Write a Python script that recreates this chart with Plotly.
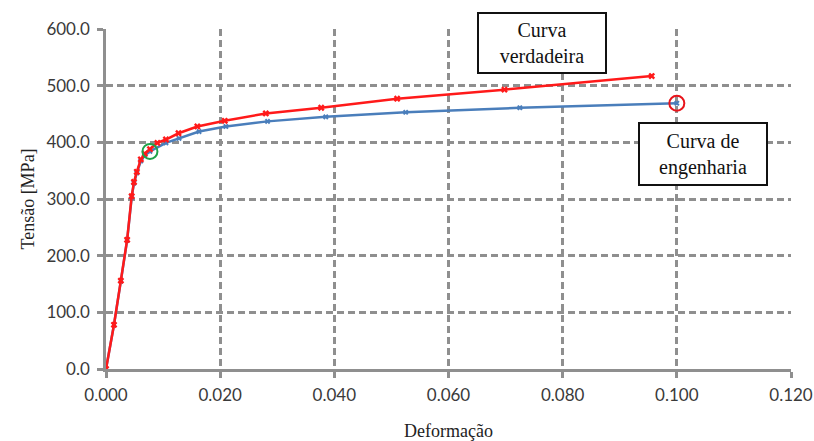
import plotly.graph_objects as go

# True stress-strain curve (red)
true_strain = [0, 0.0014, 0.0026, 0.0037, 0.0045, 0.0049, 0.0054, 0.0061, 0.0068, 0.0077,
               0.009, 0.0105, 0.0127, 0.016, 0.0208, 0.028, 0.0377, 0.051, 0.0698, 0.0956]
true_stress = [0, 78, 156, 228, 305, 330, 348, 370, 380, 388,
               399, 405, 416, 428, 438, 451, 461, 477, 493, 517]

# Engineering stress-strain curve (blue)
eng_strain = [0, 0.0014, 0.0026, 0.0037, 0.0045, 0.0049, 0.0054, 0.0061, 0.0068, 0.0077,
              0.0105, 0.0128, 0.0163, 0.021, 0.0283, 0.0385, 0.0525, 0.0725, 0.1]
eng_stress = [0, 78, 155, 227, 303, 328, 346, 367, 377, 384,
              399, 407, 419, 428, 437, 445, 453, 461, 469]

# Highlighted points: yield (green) and end of engineering curve (red)
yield_idx = 9
end_idx = len(eng_strain) - 1

x_ticks = [0, 0.02, 0.04, 0.06, 0.08, 0.10, 0.12]
y_ticks = [0, 100, 200, 300, 400, 500, 600]

RED = "#ff1a1a"
BLUE = "#4a7ebb"
GRID = "#8f8f8f"

fig = go.Figure()
fig.add_trace(go.Scatter(
    x=eng_strain, y=eng_stress, mode="lines+markers",
    line=dict(color=BLUE, width=2.5),
    marker=dict(symbol="x", size=5, color=BLUE),
    showlegend=False, hoverinfo="skip"))
fig.add_trace(go.Scatter(
    x=true_strain, y=true_stress, mode="lines+markers",
    line=dict(color=RED, width=2.5),
    marker=dict(symbol="x", size=6, color=RED),
    showlegend=False, hoverinfo="skip"))
fig.add_trace(go.Scatter(
    x=[eng_strain[yield_idx]], y=[eng_stress[yield_idx]], mode="markers",
    marker=dict(symbol="circle-open", size=15, color="#1fa34a", line=dict(width=2)),
    showlegend=False, hoverinfo="skip"))
fig.add_trace(go.Scatter(
    x=[eng_strain[end_idx]], y=[eng_stress[end_idx]], mode="markers",
    marker=dict(symbol="circle-open", size=15, color="#e8141b", line=dict(width=2)),
    showlegend=False, hoverinfo="skip"))

box_font = dict(family="Liberation Serif, Times New Roman, serif", size=20, color="#111111")
fig.add_annotation(x=0.0763, y=576, xref="x", yref="y", text="Curva<br>verdadeira",
                   showarrow=False, font=box_font, bgcolor="white",
                   bordercolor="#111111", borderwidth=2, width=124, height=56)
fig.add_annotation(x=0.1045, y=380, xref="x", yref="y", text="Curva de<br>engenharia",
                   showarrow=False, font=box_font, bgcolor="white",
                   bordercolor="#111111", borderwidth=2, width=124, height=58)

tick_font = dict(family="Lato, Open Sans, sans-serif", size=17, color="#3a3a3a")
title_font = dict(family="Liberation Serif, Times New Roman, serif", size=18, color="#222222")

fig.update_xaxes(
    range=[0, 0.12], tickvals=x_ticks, tickformat=".3f",
    showline=True, linecolor=GRID, linewidth=2.5,
    ticks="outside", ticklen=6, tickwidth=2.5, tickcolor=GRID,
    showgrid=True, gridcolor=GRID, gridwidth=3, griddash="7px,4px",
    zeroline=False, tickfont=tick_font, ticklabelstandoff=3,
    title=dict(text="Deformação", font=title_font, standoff=22))
fig.update_yaxes(
    range=[0, 600], tickvals=y_ticks, tickformat=".1f",
    showline=True, linecolor=GRID, linewidth=2.5,
    ticks="outside", ticklen=6, tickwidth=2.5, tickcolor=GRID,
    showgrid=True, gridcolor=GRID, gridwidth=3, griddash="7px,4px",
    zeroline=False, tickfont=tick_font, ticklabelstandoff=4,
    title=dict(text="Tensão [MPa]", font=title_font, standoff=8))

fig.update_layout(
    width=814, height=441,
    margin=dict(l=106, r=23, t=29, b=72, autoexpand=False),
    paper_bgcolor="white", plot_bgcolor="white")

fig.write_html("out.html")
